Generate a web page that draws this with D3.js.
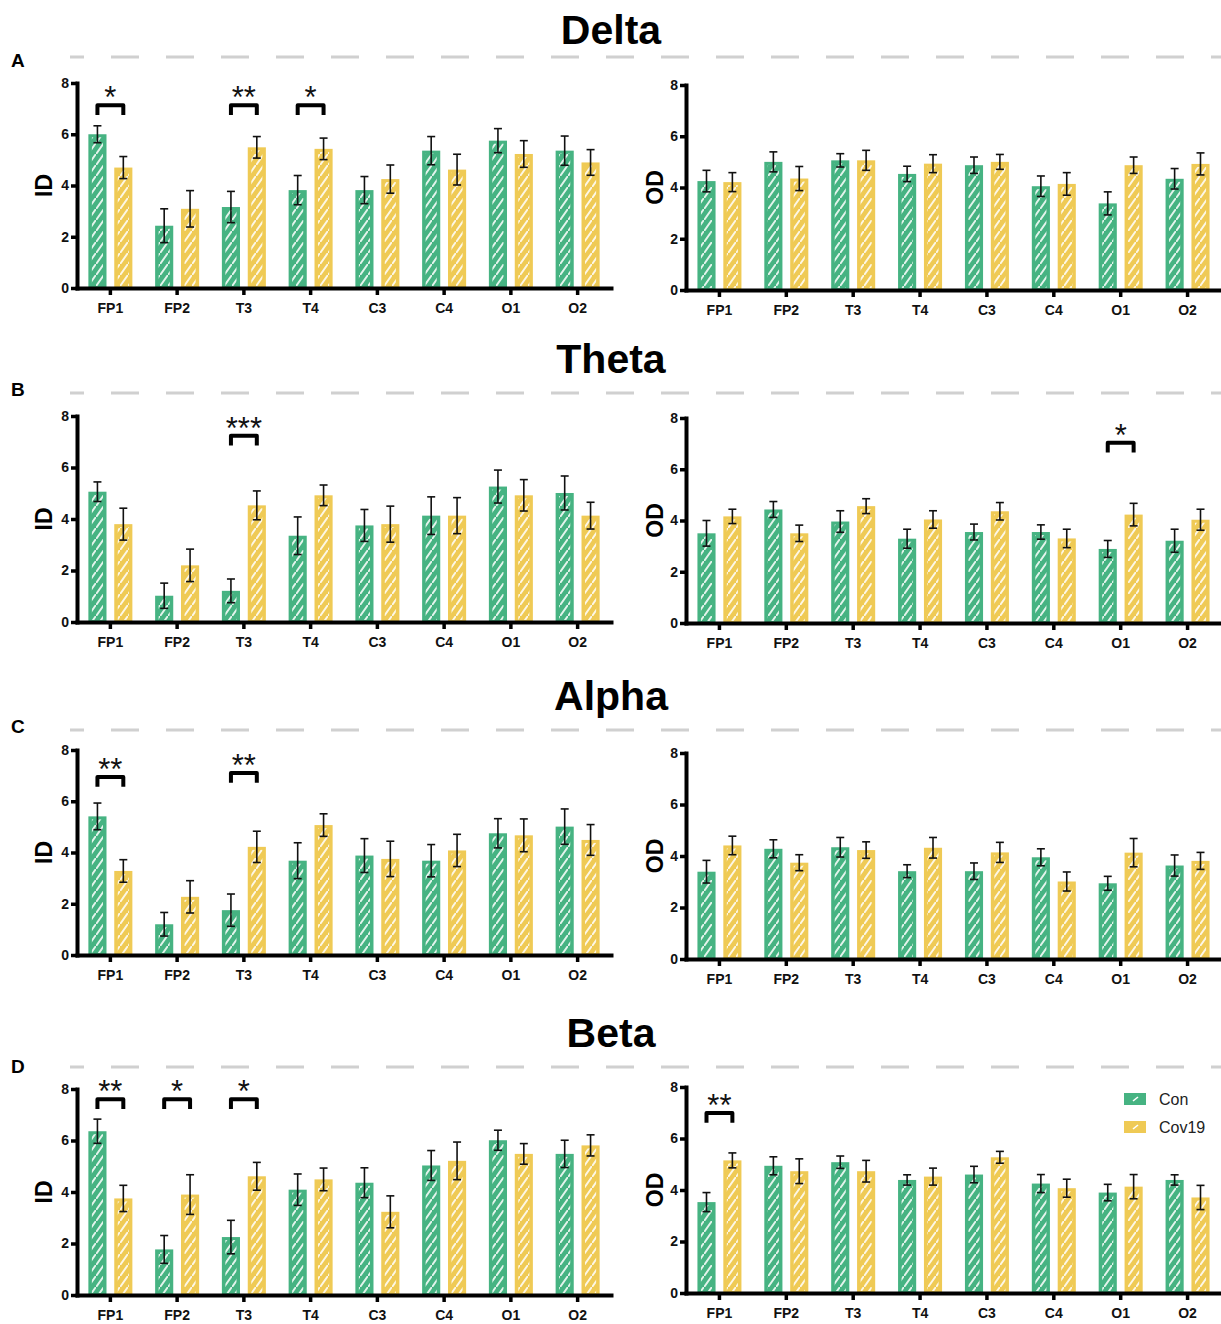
<!DOCTYPE html>
<html>
<head>
<meta charset="utf-8">
<script src="https://cdn.jsdelivr.net/npm/d3@7"></script>
<style>
  body { margin: 0; background: #fff; }
  svg text { font-family: "Liberation Sans", Arial, sans-serif; }
</style>
</head>
<body>
<svg id="fig" width="1221" height="1324"></svg>
<script>

// ---- data ----
var channels = ["FP1", "FP2", "T3", "T4", "C3", "C4", "O1", "O2"];
var groups = ["Con", "Cov19"];
var yTicks = [0, 2, 4, 6, 8];

// Delta
var deltaID_con     = [6.00, 2.43, 3.16, 3.82, 3.82, 5.36, 5.75, 5.36];
var deltaID_conErr  = [0.33, 0.66, 0.61, 0.57, 0.53, 0.55, 0.47, 0.57];
var deltaID_cov     = [4.70, 3.09, 5.49, 5.43, 4.25, 4.62, 5.23, 4.90];
var deltaID_covErr  = [0.43, 0.71, 0.42, 0.42, 0.55, 0.60, 0.52, 0.50];
var deltaOD_con     = [4.25, 5.00, 5.06, 4.53, 4.87, 4.05, 3.38, 4.34];
var deltaOD_conErr  = [0.42, 0.39, 0.26, 0.30, 0.32, 0.40, 0.45, 0.40];
var deltaOD_cov     = [4.21, 4.35, 5.06, 4.93, 5.00, 4.14, 4.87, 4.92];
var deltaOD_covErr  = [0.37, 0.47, 0.39, 0.35, 0.29, 0.44, 0.32, 0.43];

// Theta
var thetaID_con     = [5.06, 1.02, 1.21, 3.35, 3.75, 4.13, 5.26, 5.01];
var thetaID_conErr  = [0.38, 0.49, 0.46, 0.73, 0.62, 0.73, 0.64, 0.66];
var thetaID_cov     = [3.80, 2.20, 4.53, 4.92, 3.80, 4.13, 4.92, 4.13];
var thetaID_covErr  = [0.62, 0.63, 0.56, 0.40, 0.70, 0.70, 0.61, 0.52];
var thetaOD_con     = [3.50, 4.43, 3.96, 3.29, 3.55, 3.55, 2.89, 3.21];
var thetaOD_conErr  = [0.50, 0.31, 0.42, 0.37, 0.31, 0.28, 0.33, 0.45];
var thetaOD_cov     = [4.16, 3.50, 4.56, 4.04, 4.36, 3.30, 4.23, 4.03];
var thetaOD_covErr  = [0.28, 0.32, 0.29, 0.34, 0.34, 0.36, 0.44, 0.41];

// Alpha
var alphaID_con     = [5.41, 1.20, 1.75, 3.68, 3.88, 3.68, 4.75, 5.01];
var alphaID_conErr  = [0.52, 0.46, 0.63, 0.70, 0.66, 0.63, 0.57, 0.69];
var alphaID_cov     = [3.28, 2.27, 4.22, 5.07, 3.75, 4.08, 4.67, 4.49];
var alphaID_covErr  = [0.44, 0.63, 0.61, 0.44, 0.69, 0.63, 0.64, 0.60];
var alphaOD_con     = [3.39, 4.28, 4.34, 3.41, 3.41, 3.95, 2.94, 3.63];
var alphaOD_conErr  = [0.44, 0.35, 0.38, 0.25, 0.32, 0.33, 0.27, 0.41];
var alphaOD_cov     = [4.41, 3.74, 4.23, 4.32, 4.14, 3.01, 4.13, 3.81];
var alphaOD_covErr  = [0.36, 0.31, 0.32, 0.40, 0.39, 0.37, 0.55, 0.33];

// Beta
var betaID_con      = [6.36, 1.77, 2.25, 4.09, 4.36, 5.03, 6.01, 5.48];
var betaID_conErr   = [0.47, 0.54, 0.65, 0.61, 0.58, 0.58, 0.39, 0.53];
var betaID_cov      = [3.75, 3.90, 4.61, 4.49, 3.23, 5.21, 5.48, 5.81];
var betaID_covErr   = [0.51, 0.77, 0.54, 0.44, 0.62, 0.73, 0.40, 0.41];
var betaOD_con      = [3.53, 4.94, 5.08, 4.39, 4.60, 4.25, 3.90, 4.39];
var betaOD_conErr   = [0.37, 0.35, 0.24, 0.20, 0.32, 0.35, 0.32, 0.20];
var betaOD_cov      = [5.15, 4.73, 4.73, 4.52, 5.27, 4.07, 4.13, 3.71];
var betaOD_covErr   = [0.29, 0.48, 0.42, 0.33, 0.23, 0.35, 0.47, 0.47];

// significance brackets: channel, stars, bracket height (in y units)
var deltaID_sig = [{ch: "FP1", mark: "*", level: 7.13}, {ch: "T3", mark: "**", level: 7.13}, {ch: "T4", mark: "*", level: 7.13}];
var deltaOD_sig = [];
var thetaID_sig = [{ch: "T3", mark: "***", level: 7.23}];
var thetaOD_sig = [{ch: "O1", mark: "*", level: 7.03}];
var alphaID_sig = [{ch: "FP1", mark: "**", level: 6.95}, {ch: "T3", mark: "**", level: 7.1}];
var alphaOD_sig = [];
var betaID_sig  = [{ch: "FP1", mark: "**", level: 7.6}, {ch: "FP2", mark: "*", level: 7.6}, {ch: "T3", mark: "*", level: 7.6}];
var betaOD_sig  = [{ch: "FP1", mark: "**", level: 6.99}];

// ---- layout ----
var colors = {"Con": "#46b382", "Cov19": "#efca55"};
var leftX = [77, 611], rightX = [686, 1221];

var rows = [
  {band: "Delta", letter: "A", titleY: 44,   dashY: 57,   letterY: 67,
   left: [83, 288],   right: [85, 290],
   id: [deltaID_con, deltaID_conErr, deltaID_cov, deltaID_covErr, deltaID_sig],
   od: [deltaOD_con, deltaOD_conErr, deltaOD_cov, deltaOD_covErr, deltaOD_sig]},
  {band: "Theta", letter: "B", titleY: 373,  dashY: 393,  letterY: 396,
   left: [416, 622],  right: [418, 623],
   id: [thetaID_con, thetaID_conErr, thetaID_cov, thetaID_covErr, thetaID_sig],
   od: [thetaOD_con, thetaOD_conErr, thetaOD_cov, thetaOD_covErr, thetaOD_sig]},
  {band: "Alpha", letter: "C", titleY: 710,  dashY: 730,  letterY: 733,
   left: [750, 955],  right: [753, 959],
   id: [alphaID_con, alphaID_conErr, alphaID_cov, alphaID_covErr, alphaID_sig],
   od: [alphaOD_con, alphaOD_conErr, alphaOD_cov, alphaOD_covErr, alphaOD_sig]},
  {band: "Beta",  letter: "D", titleY: 1047, dashY: 1067, letterY: 1073,
   left: [1089, 1295], right: [1087, 1293],
   id: [betaID_con, betaID_conErr, betaID_cov, betaID_covErr, betaID_sig],
   od: [betaOD_con, betaOD_conErr, betaOD_cov, betaOD_covErr, betaOD_sig]}
];

var svg = d3.select("#fig");

// white diagonal hatch used inside the bars
var pat = svg.append("defs").append("pattern")
    .attr("id", "hatch")
    .attr("patternUnits", "userSpaceOnUse")
    .attr("width", 8)
    .attr("height", 11);
pat.append("line")
    .attr("x1", 0.5).attr("y1", 10.5).attr("x2", 7.5).attr("y2", 0.5)
    .attr("stroke", "#fff")
    .attr("stroke-width", 1.9)
    .attr("stroke-linecap", "round")
    .attr("stroke-opacity", 0.85);

function drawPanel(xr, yr, series, yLabel, labelX) {
  var g = svg.append("g");
  var x = d3.scaleBand().domain(channels).range(xr);
  var y = d3.scaleLinear().domain([0, 8]).range([yr[1], yr[0]]);
  var sub = d3.scaleBand().domain(groups).range([-22, 22]).paddingInner(0.3);
  var half = x.bandwidth() / 2;

  function cx(ch, grp) { return x(ch) + half + sub(grp) + sub.bandwidth() / 2; }

  var sets = [
    {grp: "Con",   vals: series[0], errs: series[1]},
    {grp: "Cov19", vals: series[2], errs: series[3]}
  ];

  sets.forEach(function(s) {
    var data = channels.map(function(c, i) { return {ch: c, v: s.vals[i], e: s.errs[i]}; });

    g.selectAll("bar")
        .data(data)
      .enter().append("rect")
        .attr("x", function(d) { return x(d.ch) + half + sub(s.grp); })
        .attr("width", sub.bandwidth())
        .attr("y", function(d) { return y(d.v); })
        .attr("height", function(d) { return y(0) - y(d.v); })
        .style("fill", colors[s.grp]);

    g.selectAll("hatch")
        .data(data)
      .enter().append("rect")
        .attr("x", function(d) { return x(d.ch) + half + sub(s.grp) + 3.5; })
        .attr("width", sub.bandwidth() - 7)
        .attr("y", function(d) { return y(d.v) + 3; })
        .attr("height", function(d) { return Math.max(0, y(0) - y(d.v) - 5); })
        .style("fill", "url(#hatch)");

    var eb = g.selectAll("err")
        .data(data)
      .enter().append("g")
        .attr("stroke", "#111")
        .attr("stroke-width", 1.6);
    eb.append("line")
        .attr("x1", function(d) { return cx(d.ch, s.grp); })
        .attr("x2", function(d) { return cx(d.ch, s.grp); })
        .attr("y1", function(d) { return y(d.v - d.e); })
        .attr("y2", function(d) { return y(d.v + d.e); });
    eb.append("line")
        .attr("x1", function(d) { return cx(d.ch, s.grp) - 4; })
        .attr("x2", function(d) { return cx(d.ch, s.grp) + 4; })
        .attr("y1", function(d) { return y(d.v + d.e); })
        .attr("y2", function(d) { return y(d.v + d.e); });
    eb.append("line")
        .attr("x1", function(d) { return cx(d.ch, s.grp) - 4; })
        .attr("x2", function(d) { return cx(d.ch, s.grp) + 4; })
        .attr("y1", function(d) { return y(d.v - d.e); })
        .attr("y2", function(d) { return y(d.v - d.e); });
  });

  // axes
  var ya = g.append("g")
      .attr("transform", "translate(" + xr[0] + ",0)")
      .call(d3.axisLeft(y).tickValues(yTicks).tickSize(6).tickSizeOuter(0).tickPadding(2));
  var xa = g.append("g")
      .attr("transform", "translate(0," + yr[1] + ")")
      .call(d3.axisBottom(x).tickSize(7).tickSizeOuter(0).tickPadding(8));

  [ya, xa].forEach(function(a) {
    a.select(".domain").attr("stroke", "#000").attr("stroke-width", 4).attr("stroke-linecap", "square");
    a.selectAll(".tick line").attr("stroke", "#000").attr("stroke-width", 3.5);
    a.selectAll(".tick text")
        .attr("fill", "#111")
        .attr("font-size", 14)
        .attr("font-weight", "bold")
        .attr("font-family", "Liberation Sans, Arial, sans-serif");
  });

  g.append("text")
      .attr("transform", "translate(" + labelX + "," + ((yr[0] + yr[1]) / 2) + ") rotate(-90)")
      .attr("text-anchor", "middle")
      .attr("font-size", 23)
      .attr("font-weight", "bold")
      .text(yLabel);

  // significance brackets
  series[4].forEach(function(s) {
    var xa1 = cx(s.ch, "Con"), xa2 = cx(s.ch, "Cov19");
    var top = y(s.level), leg = y(s.level - 0.38);
    g.append("path")
        .attr("d", "M" + xa1 + "," + leg + "V" + top + "H" + xa2 + "V" + leg)
        .attr("fill", "none")
        .attr("stroke", "#000")
        .attr("stroke-width", 4)
        .attr("stroke-linejoin", "round");
    g.append("text")
        .attr("x", (xa1 + xa2) / 2)
        .attr("y", top + 3)
        .attr("text-anchor", "middle")
        .attr("font-size", 31)
        .attr("fill", "#111")
        .text(s.mark);
  });
}

rows.forEach(function(r) {
  svg.append("text")
      .attr("x", 611)
      .attr("y", r.titleY)
      .attr("text-anchor", "middle")
      .attr("font-size", 41)
      .attr("font-weight", "bold")
      .text(r.band);

  svg.append("line")
      .attr("x1", 70).attr("x2", 1221)
      .attr("y1", r.dashY).attr("y2", r.dashY)
      .attr("stroke", "#d0d0d0")
      .attr("stroke-width", 3)
      .attr("stroke-dasharray", "28,27")
      .attr("stroke-dashoffset", 14);

  svg.append("text")
      .attr("x", 11)
      .attr("y", r.letterY)
      .attr("font-size", 19)
      .attr("font-weight", "bold")
      .text(r.letter);

  drawPanel(leftX, r.left, r.id, "ID", 52);
  drawPanel(rightX, r.right, r.od, "OD", 663);
});

// legend (inside the Beta OD panel)
var legend = svg.append("g");
groups.forEach(function(grp, i) {
  var ly = 1099 + i * 28;
  legend.append("rect")
      .attr("x", 1124).attr("y", ly - 6)
      .attr("width", 22).attr("height", 12)
      .style("fill", colors[grp]);
  legend.append("line")
      .attr("x1", 1133).attr("y1", ly + 2).attr("x2", 1138).attr("y2", ly - 2)
      .attr("stroke", "#fff").attr("stroke-width", 1.6);
  legend.append("text")
      .attr("x", 1159).attr("y", ly + 6)
      .attr("font-size", 16)
      .attr("fill", "#222")
      .text(grp);
});

</script>
</body>
</html>
